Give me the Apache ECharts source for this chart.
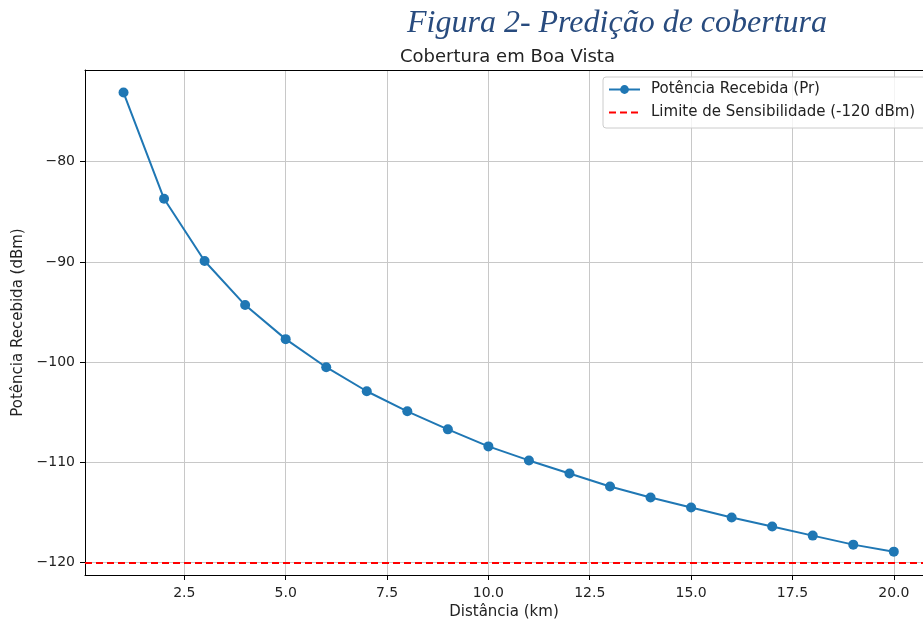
<!DOCTYPE html>
<html>
<head>
<meta charset="utf-8">
<script src="https://cdn.jsdelivr.net/npm/echarts@6/dist/echarts.min.js"></script>
<style>
html,body{margin:0;padding:0;background:#fff;}
#chart{width:923px;height:622px;}
</style>
</head>
<body>
<div id="chart"></div>
<script>
const distances = [1, 2, 3, 4, 5, 6, 7, 8, 9, 10, 11, 12, 13, 14, 15, 16, 17, 18, 19, 20];
const power = [-73.1, -83.7, -89.9, -94.3, -97.7, -100.5, -102.9, -104.9, -106.7, -108.4,
               -109.8, -111.1, -112.4, -113.5, -114.5, -115.5, -116.4, -117.3, -118.2, -118.9];
const threshold = -120;
const xTicks = [2.5, 5.0, 7.5, 10.0, 12.5, 15.0, 17.5, 20.0];
const yTicks = [-120, -110, -100, -90, -80];

const FONT = 'DejaVu Sans';
const TXT = '#222';
const chart = echarts.init(document.getElementById('chart'), null, {renderer: 'canvas'});
const seriesData = distances.map((d, i) => [d, power[i]]);

chart.setOption({
  animation: false,
  backgroundColor: '#fff',
  title: [
    {
      text: 'Figura 2- Predição de cobertura',
      left: 402, top: 3,
      textStyle: {fontFamily: 'Liberation Serif', fontStyle: 'italic', fontWeight: 'normal', fontSize: 32, color: '#284b7e'}
    },
    {
      text: 'Cobertura em Boa Vista',
      left: 395, top: 43,
      textStyle: {fontFamily: FONT, fontWeight: 'normal', fontSize: 18, color: TXT}
    }
  ],
  legend: {
    orient: 'vertical',
    left: 603, top: 77,
    padding: [5, 12, 8, 5],
    itemGap: 8,
    itemWidth: 31,
    itemHeight: 11,
    borderColor: '#cccccc',
    borderWidth: 1,
    borderRadius: 3,
    backgroundColor: 'rgba(255,255,255,0.8)',
    textStyle: {fontFamily: FONT, fontSize: 15, color: TXT, padding: [0, 0, 0, 6]},
    data: [
      {name: 'Potência Recebida (Pr)'},
      {name: 'Limite de Sensibilidade (-120 dBm)', itemStyle: {opacity: 0}}
    ]
  },
  grid: {
    left: 85, top: 70, right: 0, height: 505,
    outerBoundsMode: 'none',
    containLabel: false,
    show: false
  },
  xAxis: [
    {
      type: 'value',
      min: 0.05, max: 20.72,
      name: 'Distância (km)',
      nameLocation: 'middle',
      nameGap: 28,
      nameTextStyle: {fontFamily: FONT, fontSize: 15, color: TXT},
      axisLine: {show: true, onZero: false, lineStyle: {color: '#000', width: 1}},
      axisTick: {show: true, inside: false, length: 5, lineStyle: {color: '#000'}, customValues: xTicks},
      axisLabel: {fontFamily: FONT, fontSize: 14, color: TXT, margin: 11, customValues: xTicks,
        formatter: v => v.toFixed(1)},
      splitLine: {show: true, lineStyle: {color: '#c8c8c8', width: 1}}
    },
    {
      type: 'value',
      position: 'top',
      min: 0.05, max: 20.72,
      axisLine: {show: true, onZero: false, lineStyle: {color: '#000', width: 1}},
      axisTick: {show: false},
      axisLabel: {show: false},
      splitLine: {show: false}
    }
  ],
  yAxis: {
    type: 'value',
    min: -121.23, max: -70.85,
    name: 'Potência Recebida (dBm)',
    nameLocation: 'middle',
    nameGap: 59,
    nameTextStyle: {fontFamily: FONT, fontSize: 15, color: TXT},
    axisLine: {show: true, onZero: false, lineStyle: {color: '#000', width: 1}},
    axisTick: {show: true, inside: false, length: 5, lineStyle: {color: '#000'}, customValues: yTicks},
    axisLabel: {fontFamily: FONT, fontSize: 14, color: TXT, margin: 10, customValues: yTicks,
      formatter: v => (v < 0 ? '\u2212' + Math.abs(v) : String(v))},
    splitLine: {show: true, lineStyle: {color: '#c8c8c8', width: 1}}
  },
  series: [
    {
      name: 'Potência Recebida (Pr)',
      type: 'line',
      data: seriesData,
      symbol: 'circle',
      symbolSize: 10,
      showSymbol: true,
      lineStyle: {color: '#1f77b4', width: 2},
      itemStyle: {color: '#1f77b4'},
      z: 3
    },
    {
      name: 'Limite de Sensibilidade (-120 dBm)',
      type: 'line',
      data: [],
      symbol: 'none',
      lineStyle: {color: '#ff0000', width: 2, type: [7, 4]},
      itemStyle: {color: '#ff0000'},
      markLine: {
        silent: true,
        symbol: 'none',
        label: {show: false},
        lineStyle: {color: '#ff0000', width: 2, type: [7, 4]},
        data: [{yAxis: threshold}]
      },
      z: 4
    }
  ]
});
</script>
</body>
</html>
